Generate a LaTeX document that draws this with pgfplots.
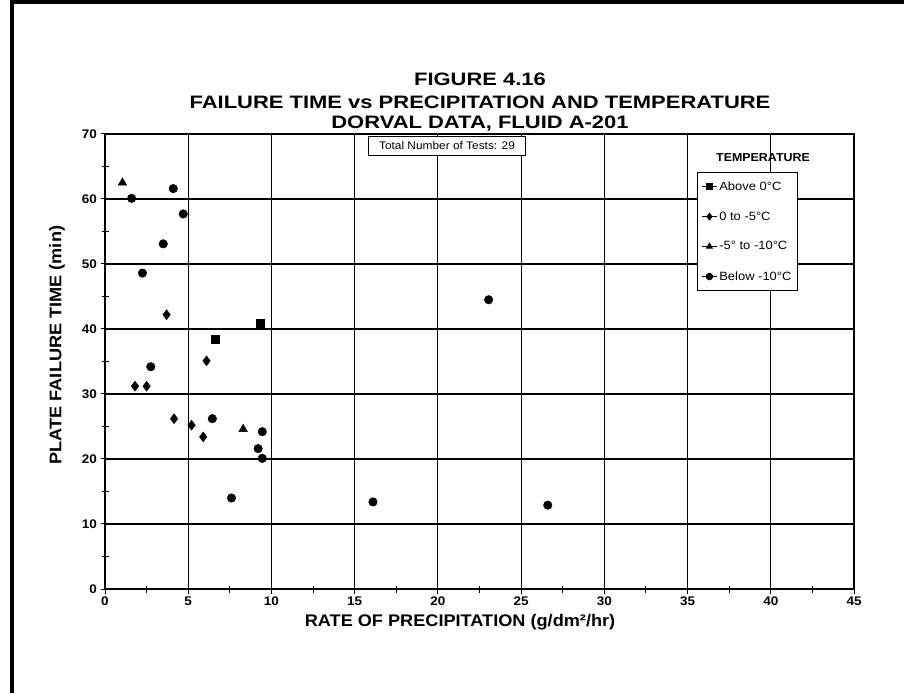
\documentclass[border=0pt]{standalone}
\usepackage{pgfplots}
\pgfplotsset{compat=1.18}
\usepackage{fontspec}
\setmainfont{Liberation Sans}[FakeStretch=1.08]
\newfontfamily\titlefont{Liberation Sans}[FakeStretch=1.22]
\begin{document}
\begin{tikzpicture}
\path[use as bounding box] (0pt,0pt) rectangle (904pt,693pt);
% page frame (left and top)
\draw[line width=4pt] (12pt,0pt) -- (12pt,691pt) -- (904pt,691pt);
% title
\node[font=\titlefont\bfseries\fontsize{18}{22}\selectfont] at (480pt,614pt) {FIGURE 4.16};
\node[font=\titlefont\bfseries\fontsize{18}{22}\selectfont] at (480pt,591pt) {FAILURE TIME vs PRECIPITATION AND TEMPERATURE};
\node[font=\titlefont\bfseries\fontsize{18}{22}\selectfont] at (480pt,569pt) {DORVAL DATA, FLUID A-201};
\begin{axis}[
  at={(105pt,104pt)}, anchor=south west,
  scale only axis, width=749pt, height=455pt,
  xmin=0, xmax=45, ymin=0, ymax=70,
  xtick={0,5,...,45}, ytick={0,10,...,70},
  minor xtick={2.5,7.5,...,42.5}, minor ytick={5,15,...,65},
  tick align=center,
  major tick length=9pt, minor tick length=7pt,
  every tick/.style={black, line width=1pt},
  xtick pos=bottom, ytick pos=left,
  grid=major,
  major grid style={black, line width=1.2pt},
  axis line style={black, line width=1.5pt},
  /pgf/number format/assume math mode=true,
  tick label style={font=\bfseries\fontsize{12.5}{14}\selectfont},
  xlabel={RATE OF PRECIPITATION (g/dm²/hr)},
  ylabel={PLATE FAILURE TIME (min)},
  label style={font=\bfseries\fontsize{16.8}{19}\selectfont},
  x label style={at={(axis description cs:0.474,-0.0725)}, anchor=center},
  y label style={at={(axis description cs:-0.064,0.536)}, anchor=center},
  legend style={at={(axis description cs:0.7904,0.9165)}, anchor=north west,
    draw=black, line width=1pt, fill=white,
    font=\fontsize{12}{14}\selectfont, row sep=16pt,
    inner xsep=4pt, inner ysep=7pt},
  legend cell align=left,
  legend image code/.code={
    \draw[black, line width=0.8pt] (0pt,0pt) -- (15pt,0pt);
    \draw[#1, mark size=3.2pt] plot coordinates {(7.5pt,0pt)};
  },
]
\addplot[only marks, mark=square*, mark size=4pt, black] coordinates {
  (9.3,40.9) (6.6,38.5)
};
\addlegendentry{Above 0°C}
\addplot[only marks, mark=diamond*, mark size=5pt, black] coordinates {
  (3.7,42.2) (6.1,35.1) (1.8,31.2) (2.5,31.2) (4.15,26.2) (5.2,25.2) (5.9,23.4)
};
\addlegendentry{0 to -5°C}
\addplot[only marks, mark=triangle*, mark size=5pt, black] coordinates {
  (1.05,62.5) (8.3,24.6)
};
\addlegendentry{-5° to -10°C}
\addplot[only marks, mark=*, mark size=4.3pt, black] coordinates {
  (4.1,61.6) (1.6,60.1) (4.7,57.7) (3.5,53.1) (2.25,48.6) (2.75,34.2)
  (6.45,26.2) (9.45,24.2) (9.2,21.6) (9.45,20.1) (7.6,14.0) (16.1,13.4)
  (23.05,44.5) (26.6,12.9)
};
\addlegendentry{Below -10°C}
\node[draw=black, line width=1pt, fill=white, font=\fontsize{11}{13}\selectfont,
  minimum width=157pt, minimum height=19pt, inner sep=2pt]
  at (axis description cs:0.4566,0.9736) {Total Number of Tests: 29};
\node[font=\bfseries\fontsize{11.5}{13}\selectfont]
  at (axis description cs:0.8785,0.949) {TEMPERATURE};
\end{axis}
\end{tikzpicture}
\end{document}
